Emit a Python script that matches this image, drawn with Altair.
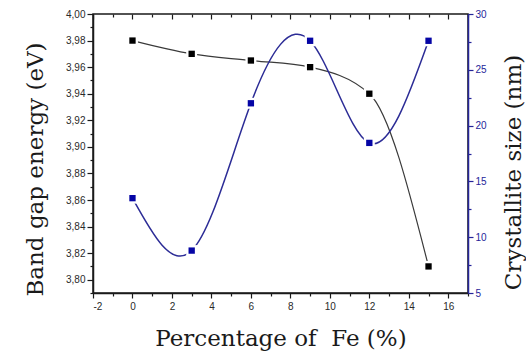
import altair as alt
import pandas as pd

# Fe doping level (%) and the two measured properties
fe_percent = [0, 3, 6, 9, 12, 15]
band_gap_ev = [3.98, 3.97, 3.965, 3.96, 3.94, 3.81]
crystallite_nm = [13.5, 8.8, 22.0, 27.6, 18.45, 27.6]

# tick positions (major + minor) for each axis
x_ticks = list(range(-2, 18))
gap_ticks = [round(3.79 + 0.01 * i, 2) for i in range(22)]
size_ticks = [5 + 2.5 * i for i in range(11)]

df = pd.DataFrame({"fe": fe_percent, "gap": band_gap_ev, "size": crystallite_nm})

INK = "#1a1a1a"
LABEL = "#2a2a2a"
BLUE_AXIS = "#25259a"
BLUE_LINE = "#2c2c96"
BLUE_MARK = "#0505a5"
LABEL_FONT = "Liberation Sans"
TITLE_FONT = "DejaVu Serif"

x_scale = alt.Scale(domain=[-2, 17], nice=False, zero=False)
gap_scale = alt.Scale(domain=[3.79, 4.00], nice=False, zero=False)
size_scale = alt.Scale(domain=[5, 30], nice=False, zero=False)

axis_bottom = alt.Axis(
    orient="bottom",
    values=x_ticks,
    title="Percentage of\u00a0\u00a0Fe (%)",
    labelExpr="datum.value % 2 === 0 ? '' + datum.value : ''",
    tickSize={"condition": {"test": "datum.value % 2 === 0", "value": 5}, "value": 3},
    labelPadding=3,
    titleFontSize=23,
    titleBaseline="alphabetic",
    titleY=52,
)

axis_top = alt.Axis(
    orient="top",
    values=x_ticks,
    title=None,
    labels=False,
    domain=False,
    tickSize=alt.ExprRef(expr="datum.value % 2 === 0 ? -5 : -3"),
)

axis_left = alt.Axis(
    orient="left",
    values=gap_ticks,
    title="Band gap energy (eV)",
    labelExpr="round(datum.value * 100) % 2 === 0 ? replace(format(datum.value, '.2f'), '.', ',') : ''",
    tickSize={"condition": {"test": "round(datum.value * 100) % 2 === 0", "value": 6}, "value": 3},
    labelPadding=2,
    titleFontSize=23,
    titleAngle=270,
    titleAlign="center",
    titleBaseline="alphabetic",
    titleX=-51,
    titleY=155,
)

axis_right = alt.Axis(
    orient="right",
    values=size_ticks,
    title="Crystallite size (nm)",
    labelExpr="datum.value % 5 === 0 ? '' + datum.value : ''",
    tickSize={"condition": {"test": "datum.value % 5 === 0", "value": 5}, "value": 3},
    labelPadding=2,
    domainColor=BLUE_AXIS,
    tickColor=BLUE_AXIS,
    labelColor=BLUE_AXIS,
    titleColor=INK,
    titleFontSize=23,
    titleAngle=270,
    titleAlign="center",
    titleBaseline="alphabetic",
    titleX=52,
    titleY=158,
)

base = alt.Chart(df)


def series(field, y_scale, y_axis, x_axis, line_color, mark_color, curve, width):
    x = alt.X("fe:Q", scale=x_scale, axis=x_axis)
    y = alt.Y(f"{field}:Q", scale=y_scale, axis=y_axis)
    line = base.mark_line(color=line_color, strokeWidth=width, interpolate=curve).encode(x=x, y=y)
    # white squares leave a small gap in the line around each marker
    halo = base.mark_point(shape="square", filled=True, color="white", size=120, opacity=1).encode(x=x, y=y)
    dots = base.mark_point(shape="square", filled=True, color=mark_color, size=40, opacity=1).encode(x=x, y=y)
    return alt.layer(line, halo, dots)


band_gap_layer = series("gap", gap_scale, axis_left, axis_bottom, "#3a3a3a", "#000000", "monotone", 1.2)
size_layer = series("size", size_scale, axis_right, axis_top, BLUE_LINE, BLUE_MARK, "natural", 1.5)

chart = (
    alt.layer(band_gap_layer, size_layer)
    .resolve_scale(y="independent")
    .properties(
        width=375,
        height=279,
        background="white",
        autosize=alt.AutoSizeParams(type="none"),
        padding={"left": 93, "top": 14, "right": 58, "bottom": 59},
    )
    .configure_view(stroke=INK, strokeWidth=1.5)
    .configure_axis(
        labelFont=LABEL_FONT,
        labelFontSize=10,
        labelColor=LABEL,
        titleFont=TITLE_FONT,
        titleFontWeight="normal",
        titleColor=INK,
        domainColor=INK,
        domainWidth=1.5,
        tickColor=INK,
        tickWidth=1.2,
        grid=False,
    )
)

chart.save("out.html", embed_options={"renderer": "svg", "actions": False})
